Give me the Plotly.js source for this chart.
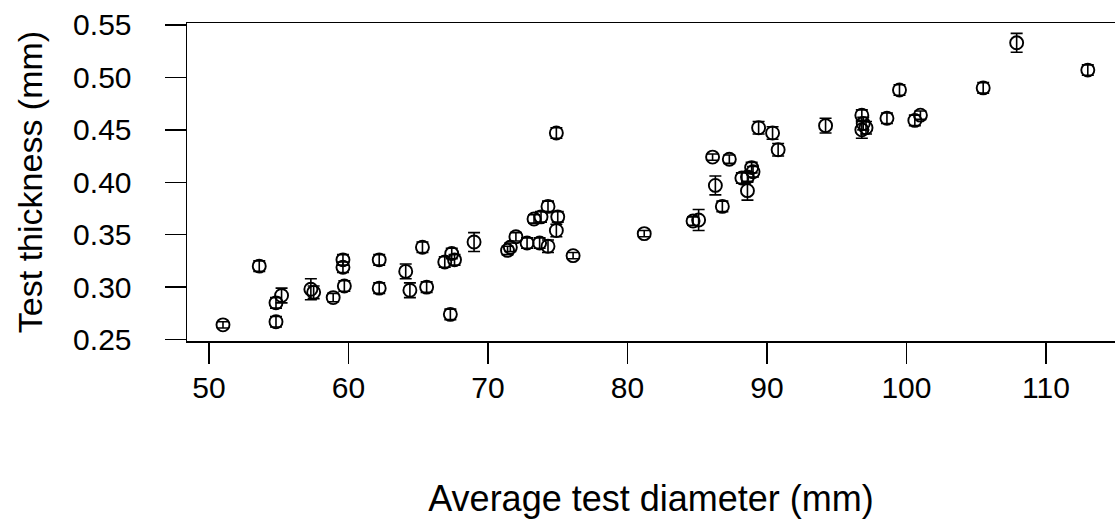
<!DOCTYPE html>
<html>
<head>
<meta charset="utf-8">
<script src="https://cdn.plot.ly/plotly-3.0.1.min.js"></script>
<style>html,body{margin:0;padding:0;background:#fff;}#chart{width:1115px;height:525px;}</style>
</head>
<body>
<div id="chart"></div>
<script>
// Average test diameter (mm)
const diameter = [51.0, 53.6, 54.8, 54.8, 55.2, 57.3, 57.5, 58.9, 59.7, 59.6, 59.6, 62.2, 62.2, 64.1, 64.4, 65.6, 65.3, 67.3, 66.9, 67.4, 67.6, 69.0, 71.4, 71.6, 72.0, 72.8, 73.7, 74.3, 74.9, 73.3, 73.8, 74.3, 75.0, 74.9, 76.1, 81.2, 84.7, 85.1, 86.1, 87.3, 86.3, 86.8, 88.2, 88.6, 88.6, 88.9, 89.0, 89.4, 90.4, 90.8, 94.2, 96.8, 96.9, 96.8, 97.1, 98.6, 99.5, 100.6, 101.0, 105.5, 107.9, 113.0];
// Test thickness (mm)
const thickness = [0.264, 0.320, 0.267, 0.285, 0.292, 0.298, 0.295, 0.290, 0.301, 0.326, 0.319, 0.326, 0.299, 0.315, 0.297, 0.300, 0.338, 0.274, 0.324, 0.332, 0.326, 0.343, 0.335, 0.338, 0.348, 0.342, 0.342, 0.339, 0.354, 0.365, 0.367, 0.377, 0.367, 0.447, 0.330, 0.351, 0.363, 0.364, 0.424, 0.422, 0.397, 0.377, 0.404, 0.405, 0.392, 0.414, 0.410, 0.452, 0.447, 0.431, 0.454, 0.464, 0.456, 0.450, 0.452, 0.461, 0.488, 0.459, 0.464, 0.490, 0.533, 0.507];
// Error (± thickness, mm)
const thicknessErr = [0.003, 0.005, 0.005, 0.005, 0.007, 0.010, 0.006, 0.004, 0.005, 0.005, 0.005, 0.005, 0.005, 0.007, 0.007, 0.005, 0.005, 0.005, 0.005, 0.005, 0.005, 0.009, 0.004, 0.004, 0.004, 0.005, 0.005, 0.006, 0.006, 0.004, 0.005, 0.005, 0.005, 0.005, 0.003, 0.003, 0.004, 0.010, 0.003, 0.004, 0.009, 0.005, 0.005, 0.005, 0.009, 0.005, 0.005, 0.006, 0.006, 0.006, 0.007, 0.005, 0.006, 0.008, 0.006, 0.005, 0.005, 0.005, 0.004, 0.005, 0.009, 0.005];
const xTicks = [50, 60, 70, 80, 90, 100, 110];
const yTicks = [0.25, 0.30, 0.35, 0.40, 0.45, 0.50, 0.55];
const yTickText = ["0.25", "0.30", "0.35", "0.40", "0.45", "0.50", "0.55"];

const trace = {
  x: diameter,
  y: thickness,
  type: 'scatter',
  mode: 'markers',
  marker: {symbol: 'circle-open', size: 13, color: '#000', line: {width: 1.9, color: '#000'}},
  error_y: {type: 'data', array: thicknessErr, visible: true, color: '#000', thickness: 1.6, width: 6},
  hoverinfo: 'x+y'
};

const fontFam = 'Liberation Sans, Arial, sans-serif';
const layout = {
  width: 1115, height: 525,
  margin: {l: 187, r: 0, t: 23, b: 184, pad: 0},
  paper_bgcolor: '#fff', plot_bgcolor: '#fff',
  showlegend: false,
  font: {family: fontFam, size: 30, color: '#000'},
  xaxis: {
    range: [48.42, 114.95],
    tickvals: xTicks,
    ticktext: xTicks.map(String),
    ticks: 'outside', ticklen: 21, tickwidth: 1.4, tickcolor: '#000',
    showline: true, mirror: true, linecolor: '#000', linewidth: 1.5,
    showgrid: false, zeroline: false,
    tickfont: {family: fontFam, size: 30, color: '#000'},
    ticklabelstandoff: -2,
    title: {text: 'Average test diameter (mm)', font: {family: fontFam, size: 36, color: '#000'}, standoff: 83},
    automargin: false
  },
  yaxis: {
    range: [0.2486, 0.5519],
    tickvals: yTicks,
    ticktext: yTickText,
    ticks: 'outside', ticklen: 21, tickwidth: 1.4, tickcolor: '#000',
    showline: true, mirror: true, linecolor: '#000', linewidth: 1.5,
    showgrid: false, zeroline: false,
    tickfont: {family: fontFam, size: 30, color: '#000'},
    ticklabelstandoff: 27,
    title: {text: 'Test thickness (mm)', font: {family: fontFam, size: 34, color: '#000'}, standoff: 20},
    automargin: false
  }
};

Plotly.newPlot('chart', [trace], layout, {displayModeBar: false, staticPlot: true});
</script>
</body>
</html>
